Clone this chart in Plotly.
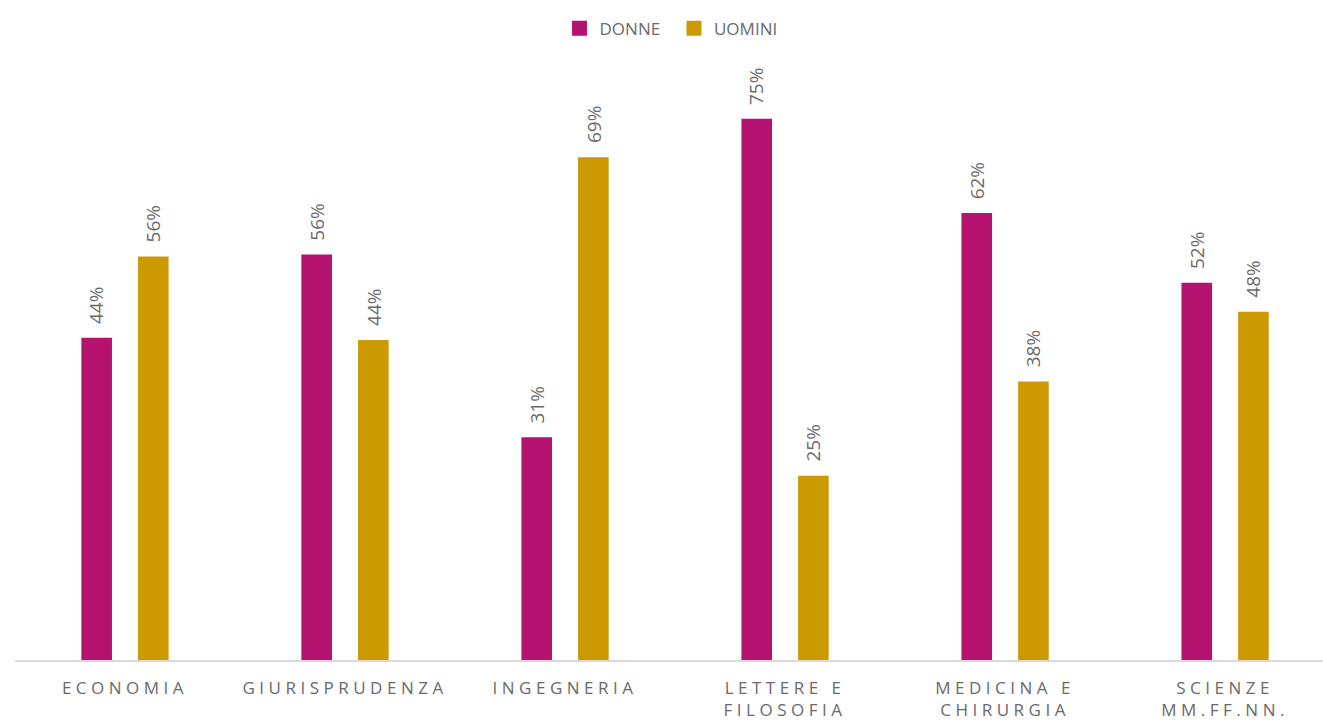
import plotly.graph_objects as go

categories = ["ECONOMIA", "GIURISPRUDENZA", "INGEGNERIA", "LETTERE E<br>FILOSOFIA",
              "MEDICINA E<br>CHIRURGIA", "SCIENZE<br>MM.FF.NN."]
donne = [44.4, 55.9, 30.7, 74.6, 61.6, 52.0]
uomini = [55.6, 44.1, 69.3, 25.4, 38.4, 48.0]
series_names = ["DONNE", "UOMINI"]
colors = ["#B5136F", "#CC9A00"]

GRAY = "#6A6A6A"
FONT = "Open Sans"

fig = go.Figure()
for name, vals, col in zip(series_names, [donne, uomini], colors):
    fig.add_trace(go.Bar(x=categories, y=vals, name=name, marker_color=col,
                         marker_line_width=0, hoverinfo="skip", showlegend=False))
for name, col in zip(series_names, colors):
    fig.add_trace(go.Scatter(x=[None], y=[None], mode="markers", name=name + "  ",
                             marker=dict(symbol="square", size=15, color=col),
                             hoverinfo="skip"))

annotations = []
for vals, shift in [(donne, -28.3), (uomini, 28.3)]:
    for c, v in zip(categories, vals):
        annotations.append(dict(x=c, y=v, xref="x", yref="y", text=f"{v:.0f}%",
                                showarrow=False, textangle=-90, xshift=shift, yshift=12,
                                xanchor="center", yanchor="bottom",
                                font=dict(family=FONT, size=19, color=GRAY)))

ticktext = [f'<span style="letter-spacing:4.5px">{c}</span>' for c in categories]

fig.update_layout(
    width=1323, height=722,
    margin=dict(l=15, r=0, t=60, b=62),
    plot_bgcolor="white", paper_bgcolor="white",
    barmode="group", bargap=0.485, bargroupgap=0.46,
    showlegend=True,
    legend=dict(orientation="h", x=0.505, xanchor="center", y=1.052, yanchor="middle",
                font=dict(family=FONT, size=17, color=GRAY), itemwidth=30,
                traceorder="normal"),
    annotations=annotations,
    xaxis=dict(type="category", range=[-0.5, 5.445], showline=True, linecolor="#D9D9D9",
               linewidth=1.5, ticks="", tickvals=categories, ticktext=ticktext,
               tickfont=dict(family=FONT, size=17, color=GRAY), ticklabelstandoff=12,
               showgrid=False, zeroline=False),
    yaxis=dict(range=[0, 82.7], visible=False, showgrid=False, zeroline=False),
)

fig.write_html("out.html", config={"displayModeBar": False},
               post_script="document.body.style.margin='0';")
